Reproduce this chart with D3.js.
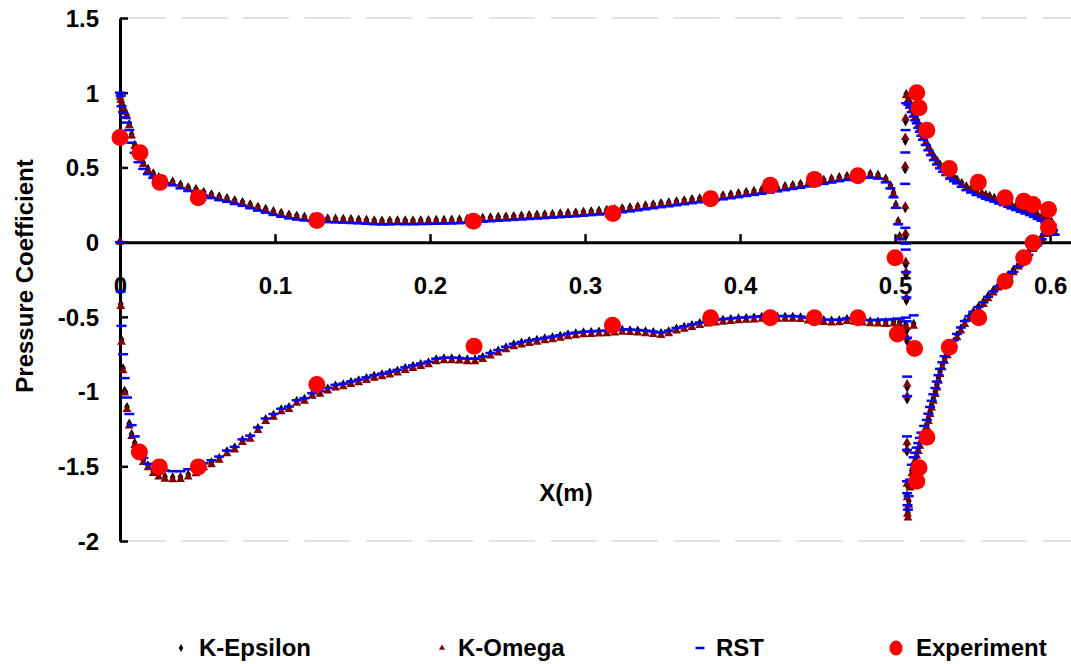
<!DOCTYPE html>
<html><head><meta charset="utf-8">
<script src="https://cdn.jsdelivr.net/npm/d3@7"></script>
<style>
body{margin:0;background:#fff}
svg{display:block}
text{font-family:"Liberation Sans",Arial,sans-serif;font-weight:bold;font-size:24px;fill:#000}
</style>
</head><body>
<svg id="chart" width="1071" height="664"></svg>
<script>
// ---------------- DATA ----------------
const xTicks = [0, 0.1, 0.2, 0.3, 0.4, 0.5, 0.6];
const yTicks = [-2, -1.5, -1, -0.5, 0, 0.5, 1, 1.5];
const seriesNames = ["K-Epsilon", "K-Omega", "RST", "Experiment"];

// main element, upper surface
const mainUpX = [
0,0.0005,0.001,0.002,0.003,0.0045,0.006,0.0075,0.0095,0.012,
0.015,0.018,0.0215,0.025,0.029,0.034,0.039,0.044,0.049,0.054,
0.059,0.064,0.069,0.074,0.079,0.084,0.089,0.094,0.099,0.104,
0.109,0.114,0.119,0.124,0.129,0.134,0.139,0.144,0.149,0.154,
0.159,0.164,0.169,0.174,0.179,0.184,0.189,0.194,0.199,0.204,
0.209,0.214,0.219,0.224,0.229,0.234,0.239,0.244,0.249,0.254,
0.259,0.264,0.269,0.274,0.279,0.284,0.289,0.294,0.299,0.304,
0.309,0.314,0.319,0.324,0.329,0.334,0.339,0.344,0.349,0.354,
0.359,0.364,0.369,0.374,0.379,0.384,0.389,0.394,0.399,0.404,
0.409,0.414,0.419,0.424,0.429,0.434,0.439,0.444,0.449,0.454,
0.459,0.464,0.469,0.474,0.479,0.484,0.489,0.494,0.497,0.499,
0.5005,0.502,0.503];
const kEpsMainUp = [
0.98,0.96,0.93,0.905,0.875,0.845,0.785,0.715,0.645,0.575,
0.525,0.485,0.455,0.43,0.413,0.4,0.38,0.362,0.35,0.33,
0.315,0.301,0.29,0.275,0.263,0.247,0.231,0.217,0.202,0.19,
0.179,0.171,0.165,0.161,0.157,0.154,0.152,0.15,0.148,0.146,
0.143,0.14,0.138,0.139,0.141,0.14,0.14,0.141,0.142,0.143,
0.144,0.145,0.147,0.15,0.153,0.157,0.16,0.163,0.166,0.169,
0.172,0.175,0.178,0.181,0.184,0.187,0.19,0.193,0.197,0.201,
0.205,0.21,0.215,0.221,0.227,0.234,0.241,0.248,0.255,0.261,
0.268,0.275,0.282,0.288,0.295,0.302,0.308,0.315,0.322,0.33,
0.337,0.345,0.353,0.361,0.369,0.377,0.385,0.394,0.402,0.411,
0.42,0.429,0.437,0.445,0.45,0.451,0.445,0.42,0.375,0.325,
0.245,0.135,0.035];
const kOmMainUp = [
0.97,0.95,0.92,0.9,0.87,0.84,0.78,0.71,0.64,0.57,
0.52,0.48,0.45,0.425,0.408,0.395,0.375,0.357,0.345,0.325,
0.31,0.296,0.285,0.27,0.258,0.242,0.226,0.212,0.197,0.185,
0.174,0.166,0.16,0.156,0.152,0.149,0.147,0.145,0.143,0.141,
0.138,0.135,0.133,0.134,0.136,0.135,0.135,0.136,0.137,0.138,
0.139,0.14,0.142,0.145,0.148,0.152,0.155,0.158,0.161,0.164,
0.167,0.17,0.173,0.176,0.179,0.182,0.185,0.188,0.192,0.196,
0.2,0.205,0.21,0.216,0.222,0.229,0.236,0.243,0.25,0.256,
0.263,0.27,0.277,0.283,0.29,0.297,0.303,0.31,0.317,0.325,
0.332,0.34,0.348,0.356,0.364,0.372,0.38,0.389,0.397,0.406,
0.415,0.424,0.432,0.44,0.445,0.446,0.44,0.415,0.37,0.32,
0.24,0.13,0.03];
const rstMainUp = [
1.0,0.98,0.91,0.87,0.835,0.8,0.75,0.665,0.598,0.535,
0.49,0.455,0.43,0.41,0.395,0.38,0.36,0.342,0.33,0.31,
0.295,0.281,0.27,0.255,0.243,0.227,0.211,0.197,0.182,0.17,
0.159,0.151,0.145,0.141,0.137,0.134,0.132,0.13,0.128,0.126,
0.123,0.12,0.118,0.119,0.121,0.12,0.12,0.121,0.122,0.123,
0.124,0.125,0.127,0.13,0.133,0.137,0.14,0.143,0.146,0.149,
0.152,0.155,0.158,0.161,0.164,0.167,0.17,0.173,0.177,0.181,
0.185,0.19,0.195,0.2,0.206,0.213,0.22,0.227,0.234,0.24,
0.247,0.254,0.261,0.267,0.274,0.281,0.287,0.294,0.301,0.309,
0.316,0.324,0.332,0.34,0.348,0.356,0.364,0.373,0.381,0.39,
0.399,0.408,0.416,0.424,0.43,0.431,0.425,0.4,0.36,0.3,
0.23,0.12,0.02];

// main element, lower surface
const mainLoX = [
0,0.0005,0.001,0.002,0.003,0.0045,0.006,0.0075,0.0095,0.012,
0.015,0.018,0.0215,0.025,0.029,0.034,0.039,0.044,0.049,0.054,
0.059,0.064,0.069,0.074,0.079,0.084,0.089,0.094,0.099,0.104,
0.109,0.114,0.119,0.124,0.129,0.134,0.139,0.144,0.149,0.154,
0.159,0.164,0.169,0.174,0.179,0.184,0.189,0.194,0.199,0.204,
0.209,0.214,0.219,0.224,0.229,0.234,0.239,0.244,0.249,0.254,
0.259,0.264,0.269,0.274,0.279,0.284,0.289,0.294,0.299,0.304,
0.309,0.314,0.319,0.324,0.329,0.334,0.339,0.344,0.349,0.354,
0.359,0.364,0.369,0.374,0.379,0.384,0.389,0.394,0.399,0.404,
0.409,0.414,0.419,0.424,0.429,0.434,0.439,0.444,0.449,0.454,
0.459,0.464,0.469,0.474,0.479,0.484,0.489,0.494,0.499,0.503,
0.507,0.512];
const kEpsMainLo = [
0,-0.42,-0.66,-0.85,-1.0,-1.11,-1.22,-1.29,-1.35,-1.405,
-1.465,-1.5,-1.538,-1.562,-1.576,-1.58,-1.578,-1.562,-1.54,-1.5,
-1.48,-1.45,-1.405,-1.38,-1.33,-1.308,-1.25,-1.19,-1.161,-1.125,
-1.11,-1.068,-1.054,-1.021,-1.007,-0.985,-0.965,-0.957,-0.942,-0.93,
-0.915,-0.9,-0.89,-0.878,-0.865,-0.848,-0.835,-0.822,-0.81,-0.79,
-0.783,-0.783,-0.785,-0.79,-0.79,-0.775,-0.752,-0.732,-0.71,-0.69,
-0.678,-0.668,-0.66,-0.65,-0.642,-0.633,-0.622,-0.616,-0.61,-0.607,
-0.604,-0.602,-0.597,-0.593,-0.595,-0.598,-0.602,-0.608,-0.615,-0.602,
-0.584,-0.573,-0.56,-0.548,-0.537,-0.53,-0.525,-0.52,-0.516,-0.513,
-0.51,-0.506,-0.505,-0.505,-0.505,-0.505,-0.508,-0.517,-0.523,-0.528,
-0.53,-0.529,-0.52,-0.525,-0.53,-0.535,-0.538,-0.54,-0.538,-0.542,
-0.558,-0.552];
const kOmMainLo = [
0,-0.43,-0.67,-0.86,-1.01,-1.12,-1.23,-1.3,-1.36,-1.415,
-1.475,-1.51,-1.548,-1.572,-1.586,-1.59,-1.588,-1.572,-1.55,-1.51,
-1.49,-1.46,-1.415,-1.39,-1.34,-1.318,-1.26,-1.2,-1.171,-1.135,
-1.12,-1.078,-1.064,-1.031,-1.017,-0.995,-0.975,-0.967,-0.952,-0.94,
-0.925,-0.91,-0.9,-0.888,-0.875,-0.858,-0.845,-0.832,-0.82,-0.8,
-0.793,-0.793,-0.795,-0.8,-0.8,-0.785,-0.762,-0.742,-0.72,-0.7,
-0.688,-0.678,-0.67,-0.66,-0.652,-0.643,-0.632,-0.626,-0.62,-0.617,
-0.614,-0.612,-0.607,-0.603,-0.605,-0.608,-0.612,-0.618,-0.625,-0.612,
-0.594,-0.583,-0.57,-0.558,-0.547,-0.54,-0.535,-0.53,-0.526,-0.523,
-0.52,-0.516,-0.515,-0.515,-0.515,-0.515,-0.518,-0.527,-0.533,-0.538,
-0.54,-0.539,-0.53,-0.535,-0.54,-0.545,-0.548,-0.55,-0.548,-0.552,
-0.568,-0.562];
const rstMainLo = [
0,-0.33,-0.56,-0.75,-0.91,-1.04,-1.15,-1.225,-1.3,-1.377,
-1.444,-1.484,-1.51,-1.522,-1.528,-1.533,-1.533,-1.52,-1.5,-1.48,
-1.46,-1.435,-1.395,-1.37,-1.32,-1.295,-1.24,-1.18,-1.15,-1.115,
-1.1,-1.058,-1.044,-1.011,-0.997,-0.975,-0.955,-0.947,-0.932,-0.92,
-0.905,-0.89,-0.88,-0.868,-0.855,-0.838,-0.825,-0.812,-0.8,-0.78,
-0.773,-0.773,-0.775,-0.78,-0.78,-0.765,-0.742,-0.722,-0.7,-0.68,
-0.668,-0.658,-0.65,-0.64,-0.632,-0.623,-0.612,-0.606,-0.6,-0.597,
-0.594,-0.592,-0.587,-0.583,-0.585,-0.588,-0.592,-0.598,-0.605,-0.592,
-0.574,-0.563,-0.55,-0.538,-0.527,-0.52,-0.515,-0.51,-0.506,-0.503,
-0.5,-0.496,-0.495,-0.495,-0.495,-0.495,-0.498,-0.507,-0.513,-0.518,
-0.52,-0.519,-0.51,-0.515,-0.52,-0.522,-0.52,-0.518,-0.515,-0.512,
-0.505,-0.49];

// flap, pressure side
const flapPX = [
0.5072,0.5086,0.5097,0.5108,0.512,0.513,0.514,0.515,0.516,0.517,
0.518,0.5198,0.5215,0.5232,0.525,0.527,0.529,0.531,0.533,0.5355,
0.538,0.54,0.543,0.546,0.549,0.5525,0.556,0.5585,0.561,0.564,
0.567,0.57,0.573,0.575,0.578,0.581,0.584,0.587,0.5895,0.592,
0.5945,0.597,0.599,0.6005,0.602,0.603];
const kEpsFlapP = [
0.985,0.96,0.925,0.89,0.86,0.835,0.815,0.785,0.759,0.732,
0.705,0.67,0.635,0.602,0.569,0.54,0.514,0.491,0.469,0.445,
0.428,0.413,0.39,0.368,0.352,0.335,0.323,0.311,0.302,0.291,
0.279,0.268,0.257,0.246,0.235,0.223,0.212,0.201,0.19,0.175,
0.163,0.15,0.14,0.125,0.101,0.067];
const kOmFlapP = [
0.98,0.955,0.92,0.885,0.855,0.83,0.81,0.78,0.754,0.727,
0.7,0.665,0.63,0.597,0.564,0.535,0.509,0.486,0.464,0.44,
0.423,0.408,0.385,0.363,0.347,0.33,0.318,0.306,0.297,0.286,
0.274,0.263,0.252,0.241,0.23,0.218,0.207,0.196,0.185,0.17,
0.158,0.145,0.135,0.12,0.096,0.062];
const rstFlapP = [
0.93,0.92,0.9,0.87,0.84,0.815,0.795,0.765,0.739,0.712,
0.685,0.65,0.615,0.582,0.549,0.52,0.494,0.471,0.449,0.425,
0.408,0.393,0.37,0.348,0.332,0.315,0.303,0.291,0.282,0.271,
0.259,0.248,0.237,0.226,0.215,0.203,0.192,0.181,0.17,0.155,
0.143,0.13,0.12,0.105,0.08,0.05];

// flap, suction side (from the leading edge)
const flapSX = [
0.5068,0.5066,0.5065,0.5066,0.5068,0.5069,0.5071,0.5073,0.5075,0.5077,
0.5078,0.5078,0.5077,0.5077,0.5077,0.5078,0.508,0.5083,0.5088,0.5097,
0.5108,0.512,0.513,0.514,0.515,0.516,0.517,0.5188,0.5205,0.5215,
0.5226,0.5236,0.5247,0.526,0.527,0.528,0.529,0.5305,0.532,0.5338,
0.5355,0.5378,0.54,0.5425,0.545,0.548,0.5505,0.5538,0.557,0.56,
0.5634,0.5667,0.57,0.573,0.5763,0.5797,0.583,0.586,0.589,0.592,
0.5946,0.597,0.599,0.601];
const kEpsFlapS = [
0.8,0.67,0.48,0.22,0.03,-0.16,-0.23,-0.4,-0.6,-0.67,
-0.98,-1.06,-1.36,-1.41,-1.63,-1.7,-1.8,-1.82,-1.74,-1.625,
-1.535,-1.488,-1.454,-1.418,-1.388,-1.353,-1.318,-1.273,-1.231,-1.188,
-1.141,-1.098,-1.052,-1.008,-0.963,-0.918,-0.874,-0.828,-0.785,-0.748,
-0.718,-0.673,-0.628,-0.583,-0.538,-0.503,-0.472,-0.438,-0.405,-0.366,
-0.328,-0.294,-0.26,-0.226,-0.193,-0.154,-0.115,-0.076,-0.037,-0.003,
0.03,0.064,0.097,0.13];
const kOmFlapS = [
0.83,0.7,0.51,0.24,0.06,-0.13,-0.2,-0.37,-0.57,-0.64,
-0.95,-1.03,-1.34,-1.39,-1.62,-1.71,-1.82,-1.845,-1.76,-1.645,
-1.55,-1.5,-1.466,-1.43,-1.4,-1.365,-1.33,-1.285,-1.243,-1.2,
-1.153,-1.11,-1.064,-1.02,-0.975,-0.93,-0.886,-0.84,-0.797,-0.76,
-0.73,-0.685,-0.64,-0.595,-0.55,-0.515,-0.484,-0.45,-0.417,-0.378,
-0.34,-0.306,-0.272,-0.238,-0.205,-0.166,-0.127,-0.088,-0.049,-0.015,
0.018,0.052,0.085,0.12];
const rstFlapS = [
0.75,0.6,0.39,0.096,-0.01,-0.05,-0.2,-0.37,-0.53,-0.64,
-0.9,-1.03,-1.3,-1.39,-1.6,-1.68,-1.76,-1.79,-1.7,-1.59,
-1.49,-1.44,-1.41,-1.375,-1.345,-1.31,-1.275,-1.23,-1.19,-1.148,
-1.103,-1.062,-1.018,-0.976,-0.933,-0.89,-0.848,-0.804,-0.763,-0.728,
-0.7,-0.657,-0.614,-0.571,-0.528,-0.495,-0.466,-0.434,-0.403,-0.366,
-0.33,-0.297,-0.264,-0.231,-0.199,-0.161,-0.123,-0.085,-0.047,-0.013,
0.02,0.053,0.085,0.118];

// experiment
const expX = [
0,0.0129,0.0258,0.0505,0.127,0.228,0.318,0.381,0.4195,0.448,0.476,
0.5,0.514,0.5155,0.5205,0.535,0.5537,0.571,0.583,0.589,0.599,
0.599,0.589,0.583,0.571,0.554,0.535,0.5205,0.5155,0.514,
0.0125,0.0254,0.0505,0.127,0.2284,0.3177,0.381,0.4195,0.448,0.476,0.5015,0.5126];
const expCp = [
0.7,0.598,0.4,0.297,0.145,0.14,0.192,0.29,0.38,0.42,0.445,
-0.105,1.0,0.9,0.748,0.493,0.4,0.297,0.274,0.252,0.219,
0.1,-0.004,-0.105,-0.261,-0.506,-0.703,-1.305,-1.51,-1.6,
-1.404,-1.504,-1.504,-0.952,-0.696,-0.557,-0.506,-0.506,-0.506,-0.506,-0.615,-0.712];

// ---------------- CHART ----------------
const W = 1071, H = 664;
const x = d3.scaleLinear().domain([0, 0.6135]).range([120, 1071]);
const y = d3.scaleLinear().domain([-2, 1.5]).range([541, 18]);
const svg = d3.select("#chart");

// dashed grid lines (top and bottom of plot)
svg.append("g").selectAll("line").data([yTicks[yTicks.length - 1], yTicks[0]]).enter()
  .append("line")
  .attr("x1", x(0)).attr("x2", W)
  .attr("y1", d => y(d)).attr("y2", d => y(d))
  .attr("stroke", "#d9d9d9").attr("stroke-width", 1.6)
  .attr("stroke-dasharray", "46,15.5");

// y axis
const yAxis = svg.append("g").attr("transform", `translate(${x(0)},0)`)
  .call(d3.axisLeft(y).tickValues(yTicks).tickFormat(d => String(d))
    .tickSizeInner(-8).tickSizeOuter(0).tickPadding(21));
// x axis
const xAxis = svg.append("g").attr("transform", `translate(0,${y(0)})`)
  .call(d3.axisBottom(x).tickValues(xTicks).tickFormat(d => String(d))
    .tickSizeInner(-8).tickSizeOuter(0).tickPadding(35));
[yAxis, xAxis].forEach(g => {
  g.selectAll("text").attr("font-family", null).attr("font-size", null)
    .style("font-family", '"Liberation Sans", Arial, sans-serif')
    .style("font-weight", "bold").style("font-size", "24px").attr("fill", "#000");
  g.select(".domain").attr("stroke", "#000").attr("stroke-width", 3);
  g.selectAll(".tick line").attr("stroke", "#000").attr("stroke-width", 2.5);
});
yAxis.selectAll(".tick text").attr("dy", "0.35em");

// axis titles
svg.append("text").attr("x", 566).attr("y", 501).attr("text-anchor", "middle").text("X(m)");
svg.append("text").attr("transform", "translate(33,276) rotate(-90)")
  .attr("text-anchor", "middle").text("Pressure Coefficient");

// build series
const pts = (xs, ys) => d3.zip(xs, ys).map(([a, b]) => ({x: a, y: b}));
const kEps = [].concat(pts(mainUpX, kEpsMainUp), pts(mainLoX, kEpsMainLo), pts(flapPX, kEpsFlapP), pts(flapSX, kEpsFlapS));
const kOm = [].concat(pts(mainUpX, kOmMainUp), pts(mainLoX, kOmMainLo), pts(flapPX, kOmFlapP), pts(flapSX, kOmFlapS));
const rst = [].concat(pts(mainUpX, rstMainUp), pts(mainLoX, rstMainLo), pts(flapPX, rstFlapP), pts(flapSX, rstFlapS));
const exp = pts(expX, expCp);

const diamond = d3.symbol().type(d3.symbolDiamond).size(28);
const triangle = d3.symbol().type(d3.symbolTriangle).size(34);

svg.append("g").selectAll("path").data(kEps).enter().append("path")
  .attr("d", diamond).attr("transform", d => `translate(${x(d.x)},${y(d.y) - 1})`).attr("fill", "#000");
svg.append("g").selectAll("path").data(kOm).enter().append("path")
  .attr("d", triangle).attr("transform", d => `translate(${x(d.x)},${y(d.y)})`).attr("fill", "#800000");
svg.append("g").selectAll("rect").data(rst).enter().append("rect")
  .attr("x", d => x(d.x) - 5).attr("y", d => y(d.y) - 1.25).attr("width", 10).attr("height", 2.5)
  .attr("fill", "#0000ff");
svg.append("g").selectAll("circle").data(exp).enter().append("circle")
  .attr("cx", d => x(d.x)).attr("cy", d => y(d.y)).attr("r", 8.5).attr("fill", "#ff0000");

// legend
const legMarkX = [181, 442, 700, 896];
const legTextX = [199, 458, 716, 916];
const legY = 648;
const leg = svg.append("g");
leg.append("path").attr("d", d3.symbol().type(d3.symbolDiamond).size(18)).attr("transform", `translate(${legMarkX[0]},${legY})`).attr("fill", "#000");
leg.append("path").attr("d", d3.symbol().type(d3.symbolTriangle).size(16)).attr("transform", `translate(${legMarkX[1]},${legY})`).attr("fill", "#800000");
leg.append("rect").attr("x", legMarkX[2] - 4.5).attr("y", legY - 1.25).attr("width", 9).attr("height", 2.5).attr("fill", "#0000ff");
leg.append("ellipse").attr("cx", legMarkX[3]).attr("cy", legY).attr("rx", 6.5).attr("ry", 7.5).attr("fill", "#ff0000");
leg.selectAll("text").data(seriesNames).enter().append("text")
  .attr("x", (d, i) => legTextX[i]).attr("y", 656).text(d => d);
</script>
</body></html>
